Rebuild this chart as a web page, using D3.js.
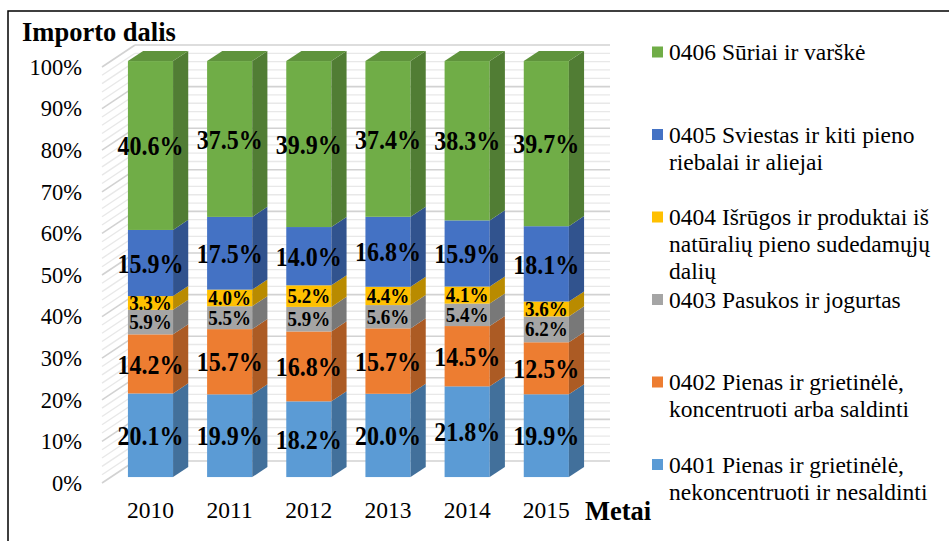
<!DOCTYPE html>
<html>
<head>
<meta charset="utf-8">
<script src="https://cdn.jsdelivr.net/npm/d3@7"></script>
<style>
  html, body { margin: 0; padding: 0; background: #fff; }
  svg { display: block; }
  svg text { font-family: "Liberation Serif", "DejaVu Serif", serif; }
</style>
</head>
<body>
<svg id="chart" width="949" height="541"></svg>
<script>
// Import shares of dairy product groups by year (percent of total)
const years = ["2010", "2011", "2012", "2013", "2014", "2015"];
const seriesKeys = ["0401", "0402", "0403", "0404", "0405", "0406"];
const v0401 = [20.1, 19.9, 18.2, 20.0, 21.8, 19.9];
const v0402 = [14.2, 15.7, 16.8, 15.7, 14.5, 12.5];
const v0403 = [5.9, 5.5, 5.9, 5.6, 5.4, 6.2];
const v0404 = [3.3, 4.0, 5.2, 4.4, 4.1, 3.6];
const v0405 = [15.9, 17.5, 14.0, 16.8, 15.9, 18.1];
const v0406 = [40.6, 37.5, 39.9, 37.4, 38.3, 39.7];
const yTicks = [0, 0.1, 0.2, 0.3, 0.4, 0.5, 0.6, 0.7, 0.8, 0.9, 1.0];
const legendLabels = {
  "0406": ["0406 Sūriai ir varškė"],
  "0405": ["0405 Sviestas ir kiti pieno", "riebalai ir aliejai"],
  "0404": ["0404 Išrūgos ir produktai iš", "natūralių pieno sudedamųjų", "dalių"],
  "0403": ["0403 Pasukos ir jogurtas"],
  "0402": ["0402 Pienas ir grietinėlė,", "koncentruoti arba saldinti"],
  "0401": ["0401 Pienas ir grietinėlė,", "nekoncentruoti ir nesaldinti"]
};
const colors = {
  "0401": "#5B9BD5", "0402": "#ED7D31", "0403": "#A5A5A5",
  "0404": "#FFC000", "0405": "#4472C4", "0406": "#70AD47"
};

const FONT = "Liberation Serif";
const seriesValues = { "0401": v0401, "0402": v0402, "0403": v0403, "0404": v0404, "0405": v0405, "0406": v0406 };
const rows = years.map((y, i) => {
  const r = { year: y };
  seriesKeys.forEach(k => r[k] = seriesValues[k][i]);
  return r;
});

const svg = d3.select("#chart");

// Outer frame
svg.append("rect").attr("x", 8).attr("y", 11).attr("width", 960).attr("height", 560)
  .attr("fill", "none").attr("stroke", "#000").attr("stroke-width", 1.5);

// 3D projection: front plane of the walls + depth offset
const DX = 33, DY = 22;           // full depth offset of the plot box
const zFront = 0.27, zBack = 0.73; // bars sit in the middle of the depth
const y = d3.scaleLinear().domain([0, 1]).range([483, 67]);
const x = d3.scaleBand().domain(years).range([102, 577]).paddingInner(0.43).paddingOuter(0.215);
const px = (xx, z) => xx + z * DX;
const py = (v, z) => y(v) - z * DY;

// Walls: gridlines every 2 %, darker at each 10 %
const grid = svg.append("g");
const minor = d3.range(0, 1.0001, 0.02);
minor.forEach(v => {
  const major = Math.abs(v * 10 - Math.round(v * 10)) < 1e-6;
  const col = major ? "#d2d2d2" : "#e8e8e8";
  const w = major ? 1.6 : 1.3;
  // side wall
  grid.append("line")
    .attr("x1", px(102, 0)).attr("y1", py(v, 0))
    .attr("x2", px(102, 1)).attr("y2", py(v, 1))
    .attr("stroke", col).attr("stroke-width", w);
  // back wall
  grid.append("line")
    .attr("x1", px(102, 1)).attr("y1", py(v, 1))
    .attr("x2", px(577, 1)).attr("y2", py(v, 1))
    .attr("stroke", col).attr("stroke-width", w);
});

// Y axis tick labels
svg.append("g").selectAll("text").data(yTicks).join("text")
  .attr("x", 82).attr("y", d => y(d)).attr("dy", "0.35em")
  .attr("text-anchor", "end").attr("font-family", FONT).attr("font-size", 22.5).attr("fill", "#000")
  .text(d => d3.format(".0%")(d));

// Stacked (100 %) 3D columns
const stack = d3.stack().keys(seriesKeys).offset(d3.stackOffsetExpand);
const stacked = stack(rows);
const bars = svg.append("g");
stacked.forEach((layer, li) => {
  const key = layer.key;
  const base = d3.color(colors[key]);
  const sideCol = base.darker(0.9).formatHex();
  const topCol = base.darker(0.45).formatHex();
  layer.forEach(seg => {
    const yr = seg.data.year;
    const x0 = px(x(yr), zFront), x1 = x0 + x.bandwidth();
    const yb = py(seg[0], zFront), yt = py(seg[1], zFront);
    const ddx = (zBack - zFront) * DX, ddy = (zBack - zFront) * DY;
    // front face
    bars.append("rect").attr("x", x0).attr("y", yt).attr("width", x1 - x0).attr("height", yb - yt)
      .attr("fill", colors[key]);
    // side face
    bars.append("path")
      .attr("d", `M${x1},${yt}L${x1 + ddx},${yt - ddy}L${x1 + ddx},${yb - ddy}L${x1},${yb}Z`)
      .attr("fill", sideCol);
    // top face for the last layer
    if (li === stacked.length - 1) {
      bars.append("path")
        .attr("d", `M${x0},${yt}L${x0 + ddx},${yt - ddy}L${x1 + ddx},${yt - ddy}L${x1},${yt}Z`)
        .attr("fill", topCol);
    }
  });
});

// Data labels, centred on each front face (large ones drawn slightly tall)
const labels = svg.append("g");
stacked.forEach(layer => {
  const small = layer.key === "0403" || layer.key === "0404";
  layer.forEach((seg, i) => {
    const yr = seg.data.year;
    const cx = px(x(yr), zFront) + x.bandwidth() / 2;
    const cy = py((seg[0] + seg[1]) / 2, zFront);
    labels.append("text")
      .attr("transform", `translate(${cx},${cy}) scale(1,${small ? 1.05 : 1.15})`)
      .attr("dy", "0.35em")
      .attr("text-anchor", "middle").attr("font-family", FONT).attr("font-weight", "bold")
      .attr("font-size", small ? 19 : 24).attr("fill", "#000")
      .text(seriesValues[layer.key][i].toFixed(1) + "%");
  });
});

// Category labels
svg.append("g").selectAll("text").data(years).join("text")
  .attr("x", d => px(x(d), zFront) + x.bandwidth() / 2).attr("y", 510).attr("dy", "0.35em")
  .attr("text-anchor", "middle").attr("font-family", FONT).attr("font-size", 23.5).text(d => d);

// Axis titles
svg.append("text").attr("x", 22).attr("y", 41).attr("font-family", FONT).attr("font-size", 26.5)
  .attr("font-weight", "bold").text("Importo dalis");
svg.append("text").attr("x", 585).attr("y", 520).attr("font-family", FONT).attr("font-size", 26.5)
  .attr("font-weight", "bold").text("Metai");

// Legend
const legendOrder = seriesKeys.slice().reverse();
const leg = svg.append("g");
legendOrder.forEach((k, i) => {
  const cy = 52 + i * 82.5;
  leg.append("rect").attr("x", 652).attr("y", cy - 5.5).attr("width", 11).attr("height", 11)
    .attr("fill", colors[k]);
  legendLabels[k].forEach((line, j) => {
    leg.append("text").attr("x", 669).attr("y", cy + j * 27).attr("dy", "0.35em")
      .attr("font-family", FONT).attr("font-size", 23.5).text(line);
  });
});
</script>
</body>
</html>
